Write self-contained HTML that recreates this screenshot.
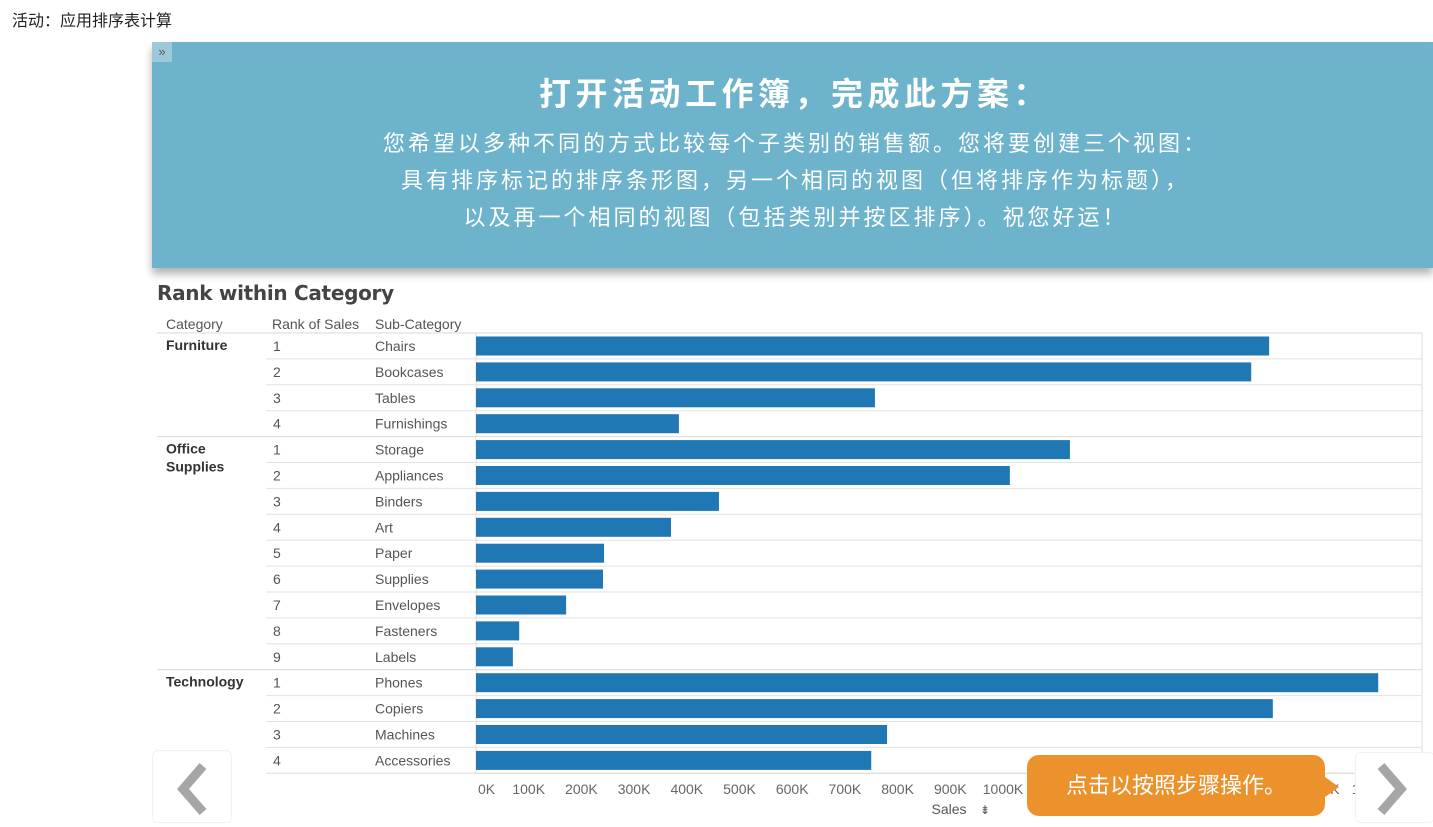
<!DOCTYPE html>
<html><head><meta charset="utf-8">
<style>
body{margin:0;width:1433px;height:821px;overflow:hidden;background:#fff;font-family:"Liberation Sans","Noto Sans CJK SC",sans-serif;position:relative}
.abs{position:absolute}
</style></head><body>
<div class="abs" style="left:12px;top:7px;font-size:16px;color:#222">活动：应用排序表计算</div>
<div class="abs" style="left:152px;top:42px;width:1281px;height:226px;background:#6db3cb;box-shadow:0 6px 8px rgba(0,0,0,0.3);color:#fff;text-align:center">
  <div class="abs" style="left:0;top:0;width:20px;height:20px;background:#9cc9da;color:#555;font-size:13px;line-height:20px">»</div>
  <div style="margin-top:27px;font-size:32px;font-weight:bold;letter-spacing:4.5px;padding-left:4px">打开活动工作簿，完成此方案：</div>
  <div style="margin-top:10px;font-size:22px;line-height:37px;letter-spacing:3px;padding-left:6px">您希望以多种不同的方式比较每个子类别的销售额。您将要创建三个视图：<br>具有排序标记的排序条形图，另一个相同的视图（但将排序作为标题），<br>以及再一个相同的视图（包括类别并按区排序）。祝您好运！</div>
</div>
<div class="abs" style="left:157px;top:281px;font-size:20px;font-weight:bold;color:#444;font-family:'DejaVu Sans',sans-serif;letter-spacing:-0.3px">Rank within Category</div>
<svg class="abs" style="left:0;top:0" width="1433" height="821" id="chart"></svg>
<div class="abs" style="left:152px;top:750px;width:78px;height:71px;border:1px solid #f2f2f2;border-radius:6px;background:#fff">
<svg width="78" height="71"><polyline points="50,15 30,38 50,61" fill="none" stroke="#a6a6a6" stroke-width="9"/></svg></div>
<div class="abs" style="left:1355px;top:752px;width:78px;height:69px;border:1px solid #f2f2f2;border-radius:6px;background:#fff">
<svg width="78" height="69"><polyline points="25,13 45,36 25,59" fill="none" stroke="#a6a6a6" stroke-width="9"/></svg></div>
<div class="abs" style="left:1027px;top:755px;width:298px;height:61px;background:#eb922c;border-radius:12px;color:#fff;font-size:22px;line-height:61px;text-align:center">点击以按照步骤操作。</div>
<div class="abs" style="left:1325px;top:777px;width:0;height:0;border-top:10px solid transparent;border-bottom:10px solid transparent;border-left:14px solid #eb922c"></div>
<script>
const categories=["Furniture","Office Supplies","Technology"];
const catSizes=[4,9,4];
const subCats=["Chairs","Bookcases","Tables","Furnishings","Storage","Appliances","Binders","Art","Paper","Supplies","Envelopes","Fasteners","Labels","Phones","Copiers","Machines","Accessories"];
const ranks=[1,2,3,4,1,2,3,4,5,6,7,8,9,1,2,3,4];
const sales=[1505,1471,757,385,1127,1013,461,370,243,241,171,82,70,1712,1512,780,750];
const ticks=[0,100,200,300,400,500,600,700,800,900,1000,1100,1200,1300,1400,1500,1600,1700];
const svg=document.getElementById('chart');const NS='http://www.w3.org/2000/svg';
const x0=476,kx=0.527,top0=333,rh=25.9;
const xs=v=>x0+v*kx; const ys=i=>top0+i*rh;
function mk(t,a){const e=document.createElementNS(NS,t);for(const k in a)e.setAttribute(k,a[k]);svg.appendChild(e);return e;}
function tx(s,x,y,o){const e=mk('text',Object.assign({x:x,y:y,'font-size':14,fill:'#555','font-family':'Liberation Sans, sans-serif'},o||{}));e.textContent=s;return e;}
let h=tx('Category',166,329);
h=tx('Rank of Sales',272,329);
h=tx('Sub-Category',375,329);
let b=mk('rect',{x:x0,y:top0,width:946,height:rh*subCats.length,fill:'none',stroke:'#ddd'});

let idx=0;
categories.forEach((c,ci)=>{
  let l=mk('line',{x1:157,x2:1422,y1:ys(idx),y2:ys(idx),stroke:'#d8d8d8'});
  
  const parts=c.split(' ');
  parts.forEach((p,pi)=>{const t=tx(p,166,ys(idx)+17+pi*18,{'font-weight':'bold',fill:'#333'});
    });
  for(let k=0;k<catSizes[ci];k++){
    const i=idx+k;
    if(k>0){const r=mk('line',{x1:266,x2:1422,y1:ys(i),y2:ys(i),stroke:'#e2e2e2'});
      }
    const rt=tx(String(ranks[i]),273,ys(i)+18);
    const st=tx(subCats[i],375,ys(i)+18);
    const bar=mk('rect',{x:x0,y:ys(i)+3.5,width:xs(sales[i])-x0,height:19,fill:'#1f77b4'});
    
    
  }
  idx+=catSizes[ci];
});
const lb=mk('line',{x1:266,x2:1422,y1:ys(idx),y2:ys(idx),stroke:'#ddd'});

ticks.forEach((v,i)=>{
  const t=tx(v+'K',i==0?xs(v)+2:xs(v),794,{'font-size':14,fill:'#666','text-anchor':i==0?'start':'middle'});
  
});
const at=tx('Sales',949,814,{'font-size':14,fill:'#555','text-anchor':'middle'});

const si=tx('⇟',980,814,{'font-size':12,fill:'#555'});

</script>
</body></html>
